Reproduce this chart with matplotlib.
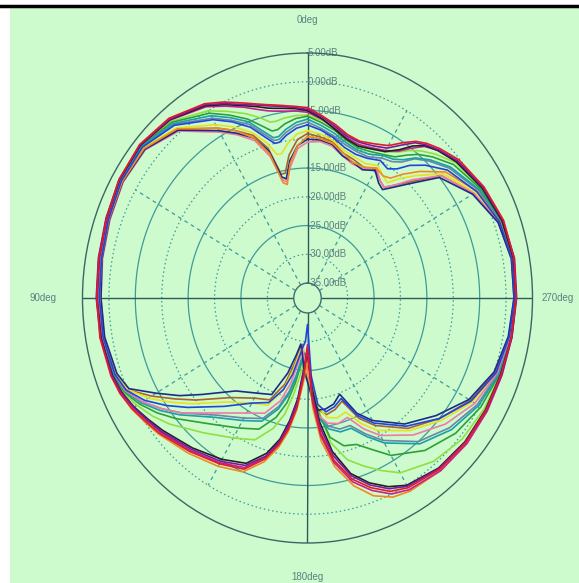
import numpy as np
import matplotlib
matplotlib.use("Agg")
import matplotlib.pyplot as plt
from matplotlib.patches import Rectangle
from matplotlib.lines import Line2D

# sample angles (deg, counter-clockwise from 0deg at top)
ANG = [0, 4, 8, 11, 13, 16, 20, 25, 30, 40, 50, 60, 70, 80, 90, 100, 110, 115, 120,
       125, 130, 140, 150, 158, 164, 168, 171, 174, 177, 180, 183, 186, 190, 195,
       200, 205, 210, 220, 230, 240, 250, 260, 270, 280, 290, 300, 310, 316, 320,
       323, 326, 330, 335, 340, 345, 350, 355]

# gain traces in dB, one per frequency
RED = [-4.5, -4.2, -3.8, -3.4, -3.1, -2.5, -1.5, 0.0, 1.4, 3.2, 3.9, 3.6, 2.9, 2.5, 2.3, 2.3, 2.0, 1.6, 0.8, -0.2, -1.0, -2.8, -4.3, -5.5, -8.5, -11.5, -14.5, -18.5, -24.0, -29.0, -20.0, -14.0, -9.0, -5.0, -2.5, -0.5, 0.5, 1.3, 1.5, 1.4, 1.4, 1.6, 1.9, 2.1, 1.9, 1.0, -0.2, -1.5, -2.5, -3.5, -5.0, -7.0, -8.0, -8.6, -8.2, -7.0, -5.8]
PURPLE = [-4.8, -4.4, -4.0, -3.6, -3.3, -2.7, -1.8, -0.3, 1.2, 3.0, 3.8, 3.6, 3.0, 2.6, 2.4, 2.2, 1.8, 1.3, 0.4, -0.6, -1.5, -3.3, -4.8, -6.2, -9.0, -12.0, -15.5, -19.5, -25.0, -28.5, -21.0, -15.0, -9.8, -5.6, -3.0, -1.0, 0.2, 1.1, 1.4, 1.5, 1.5, 1.7, 2.0, 2.2, 1.8, 0.8, -0.5, -1.8, -2.8, -3.8, -5.5, -7.5, -8.4, -8.8, -8.5, -7.3, -6.0]
BLACK = [-5.0, -4.6, -4.3, -4.0, -3.7, -3.0, -2.0, -0.5, 1.0, 2.9, 3.7, 3.5, 2.9, 2.5, 2.3, 2.1, 1.7, 1.2, 0.3, -0.8, -1.8, -3.6, -5.2, -6.6, -9.5, -12.5, -16.0, -20.0, -25.5, -28.0, -22.0, -16.0, -10.5, -6.0, -3.4, -1.4, 0.0, 1.0, 1.3, 1.3, 1.3, 1.6, 1.9, 2.0, 1.6, 0.6, -0.8, -2.0, -3.0, -4.5, -6.5, -8.2, -9.0, -9.5, -9.0, -7.8, -6.3]
MAGENTA = [-5.3, -5.0, -4.8, -4.5, -4.2, -3.5, -2.3, -0.8, 0.8, 2.8, 3.7, 3.5, 2.8, 2.4, 2.2, 2.1, 1.8, 1.3, 0.5, -0.5, -1.3, -3.0, -4.5, -5.8, -8.8, -11.8, -15.0, -19.0, -24.5, -29.5, -19.5, -13.5, -8.5, -4.5, -2.0, 0.0, 0.9, 1.6, 1.8, 1.7, 1.6, 1.7, 1.9, 2.0, 1.7, 0.7, -0.6, -1.9, -3.2, -5.0, -6.8, -8.0, -8.8, -9.2, -8.8, -7.6, -6.4]
BLUE = [-7.5, -8.0, -9.0, -10.0, -10.0, -8.5, -6.0, -3.8, -1.8, 1.6, 3.2, 3.1, 2.5, 2.0, 1.8, 1.7, 1.2, 0.3, -2.0, -5.0, -8.0, -13.0, -16.5, -18.0, -21.0, -24.0, -27.0, -29.0, -30.0, -33.0, -24.0, -19.0, -17.5, -18.0, -19.0, -15.0, -12.5, -8.5, -5.0, -1.8, 0.4, 1.2, 1.6, 1.7, 1.1, -0.6, -3.0, -5.5, -7.5, -9.5, -10.5, -10.0, -10.8, -11.0, -10.5, -9.3, -8.3]
NAVY = [-10.0, -11.0, -13.5, -16.5, -16.0, -11.0, -8.0, -6.0, -4.0, 0.5, 2.6, 2.8, 2.3, 1.9, 1.5, 1.4, 0.8, -0.3, -4.5, -8.0, -11.5, -16.5, -18.5, -19.5, -24.0, -27.5, -29.5, -28.0, -25.0, -23.0, -20.0, -18.0, -18.0, -18.5, -19.8, -15.5, -13.0, -9.0, -5.8, -2.3, 0.0, 1.0, 1.5, 1.6, 0.8, -1.5, -5.0, -10.0, -12.5, -14.0, -13.5, -12.0, -13.0, -12.5, -12.0, -10.5, -10.0]
TEAL = [-6.5, -7.0, -8.0, -9.0, -9.0, -7.5, -5.0, -3.0, -1.0, 2.0, 3.4, 3.3, 2.7, 2.2, 2.0, 1.9, 1.4, 0.6, -1.2, -3.5, -6.0, -10.5, -13.0, -14.5, -17.5, -20.5, -23.5, -26.5, -27.0, -25.5, -20.5, -16.5, -14.5, -13.5, -13.5, -11.0, -8.5, -4.5, -2.0, -0.2, 1.0, 1.4, 1.8, 1.9, 1.4, 0.0, -2.2, -4.2, -5.8, -7.5, -8.5, -9.0, -10.0, -10.2, -9.6, -8.5, -7.5]
GREEN = [-6.0, -6.3, -7.0, -7.8, -7.8, -6.5, -4.5, -2.5, -0.5, 2.3, 3.5, 3.4, 2.8, 2.3, 2.1, 2.0, 1.5, 0.8, -0.8, -2.8, -5.0, -9.0, -11.5, -13.0, -16.0, -19.0, -22.5, -26.0, -28.0, -27.0, -22.0, -17.5, -13.0, -11.0, -10.5, -8.5, -6.0, -3.0, -1.0, 0.3, 1.1, 1.5, 1.8, 1.9, 1.5, 0.3, -1.5, -3.5, -5.0, -6.5, -8.0, -8.8, -9.5, -9.8, -9.2, -8.0, -7.0]
YELLOW = [-8.5, -9.0, -10.5, -12.0, -12.0, -9.5, -7.0, -4.8, -2.8, 1.0, 3.0, 3.0, 2.4, 2.0, 1.7, 1.6, 1.0, 0.0, -2.8, -6.0, -9.0, -14.0, -16.5, -17.5, -21.0, -25.0, -28.0, -29.0, -27.0, -24.5, -21.0, -18.5, -16.5, -16.0, -16.5, -13.5, -11.0, -7.5, -4.5, -1.5, 0.5, 1.2, 1.6, 1.7, 1.0, -1.0, -4.0, -8.0, -10.5, -12.5, -12.0, -11.0, -11.8, -11.5, -11.0, -9.8, -9.0]
ORANGE = [-9.5, -11.0, -14.0, -17.5, -17.0, -11.5, -8.0, -5.5, -3.5, 0.8, 2.8, 2.9, 2.4, 2.0, 1.8, 1.9, 1.8, 1.5, 0.9, 0.0, -0.8, -2.4, -3.8, -5.0, -8.0, -11.0, -14.0, -18.0, -23.0, -27.0, -18.5, -12.5, -7.8, -3.8, -1.0, 0.6, 1.2, 1.6, 1.7, 1.6, 1.5, 1.6, 1.8, 1.8, 1.2, -0.5, -3.5, -7.0, -9.5, -11.5, -12.0, -11.5, -12.5, -12.5, -11.5, -10.3, -9.8]
PINK = [-10.5, -11.5, -14.5, -17.0, -16.5, -12.0, -8.5, -6.3, -4.3, 0.3, 2.5, 2.7, 2.2, 1.8, 1.5, 1.5, 1.2, 0.5, -1.5, -4.0, -6.5, -11.5, -14.5, -16.0, -19.0, -22.5, -26.0, -28.5, -27.0, -25.0, -20.5, -17.0, -15.5, -15.0, -15.5, -12.5, -10.0, -6.5, -3.5, -1.0, 0.6, 1.3, 1.7, 1.7, 0.9, -1.2, -4.5, -9.0, -12.0, -13.5, -13.0, -11.5, -12.8, -12.8, -12.0, -10.8, -10.3]
BROWN = [-9.0, -10.0, -12.5, -15.5, -15.5, -10.5, -7.5, -5.5, -3.5, 0.7, 2.7, 2.8, 2.3, 1.9, 1.6, 1.6, 1.1, 0.1, -3.5, -7.0, -10.0, -15.0, -17.5, -18.5, -22.0, -26.0, -29.0, -29.5, -26.0, -23.5, -20.5, -18.0, -17.0, -17.5, -18.5, -14.5, -12.0, -8.0, -5.0, -2.0, 0.2, 1.1, 1.5, 1.6, 0.9, -1.3, -4.5, -9.5, -12.0, -13.5, -13.0, -11.8, -12.5, -12.0, -11.5, -10.0, -9.5]
LIME = [-5.8, -5.8, -6.0, -6.3, -6.2, -5.0, -3.5, -1.8, 0.0, 2.5, 3.6, 3.4, 2.8, 2.3, 2.1, 2.0, 1.6, 1.0, -0.3, -1.8, -3.5, -7.0, -9.5, -11.0, -14.0, -17.0, -20.5, -24.0, -27.0, -28.0, -23.0, -18.0, -12.0, -8.5, -6.5, -4.5, -2.5, -0.5, 0.6, 1.0, 1.3, 1.6, 1.9, 2.0, 1.6, 0.5, -1.0, -2.8, -4.2, -5.5, -7.0, -8.3, -9.0, -9.5, -8.8, -7.6, -6.6]
SLATE = [-7.0, -7.5, -8.5, -9.5, -9.5, -8.0, -5.5, -3.5, -1.5, 1.8, 3.3, 3.2, 2.6, 2.1, 1.9, 1.8, 1.3, 0.5, -1.5, -4.0, -6.5, -11.0, -13.5, -15.0, -18.0, -21.0, -24.0, -27.0, -27.5, -26.0, -21.0, -17.0, -15.0, -14.0, -14.0, -11.5, -9.0, -5.0, -2.5, -0.5, 0.8, 1.3, 1.7, 1.8, 1.3, -0.2, -2.5, -4.5, -6.0, -8.0, -9.0, -9.5, -10.5, -10.5, -10.0, -9.0, -8.0]

# drawing order: inner traces first, strongest traces on top
TRACES = [
    (SLATE, "#6a86a8"), (LIME, "#8fe040"), (BROWN, "#a8642e"), (YELLOW, "#e8e020"),
    (GREEN, "#2ea03a"), (TEAL, "#1aa0a8"), (PINK, "#f07aa8"), (NAVY, "#1c2c86"),
    (ORANGE, "#f08a20"), (BLUE, "#2244d8"), (MAGENTA, "#c8208c"), (BLACK, "#202020"),
    (PURPLE, "#7a1aa0"), (RED, "#e01a2c"),
]

R_LEVELS = [5, 0, -5, -10, -15, -20, -25, -30, -35]
R_LABELS = ["5.00dB", "0.00dB", "-5.00dB", "-10.00dB", "-15.00dB", "-20.00dB",
            "-25.00dB", "-30.00dB", "-35.00dB"]

W, H = 579, 583
fig = plt.figure(figsize=(W / 100, H / 100), dpi=100)
fig.patch.set_facecolor("white")

BG = "#cdfbcd"
fig.patches.append(Rectangle((10 / W, 0), 1 - 10 / W, 1 - 8 / H, transform=fig.transFigure,
                             facecolor=BG, edgecolor="none", zorder=-10))
fig.lines.append(Line2D([0, 1], [1 - 6 / H, 1 - 6 / H], transform=fig.transFigure,
                        color="black", linewidth=2.5))

cx, cy, rx, ry = 307.5, 298.0, 225.0, 245.0
ax = fig.add_axes([(cx - rx) / W, (H - cy - ry) / H, 2 * rx / W, 2 * ry / H],
                  projection="polar")
ax.set_aspect("auto")
ax.set_facecolor("none")
ax.set_theta_zero_location("N")
ax.set_theta_direction(1)
ax.set_ylim(-35, 5)
ax.set_rorigin(-37.6)
ax.grid(False)
ax.set_xticks([])
ax.set_yticks([])
for name, sp in ax.spines.items():
    if name == "polar":
        sp.set_color("#3e6464")
        sp.set_linewidth(1.0)
    elif name == "inner":
        sp.set_color("#3e6e6e")
        sp.set_linewidth(1.0)
    else:
        sp.set_visible(False)

th_full = np.linspace(0, 2 * np.pi, 721)
GRID = "#3f9a9a"
for lev in R_LEVELS[1:-1]:
    if lev % 10 == 0:
        ax.plot(th_full, np.full_like(th_full, lev), color=GRID, lw=0.9,
                ls=(0, (1.2, 2.2)), zorder=1)
    else:
        ax.plot(th_full, np.full_like(th_full, lev), color=GRID, lw=0.9, zorder=1)

for a in range(30, 360, 30):
    if a % 90 == 0:
        continue
    t = np.deg2rad(a)
    ax.plot([t, t], [-35, 0], color=GRID, lw=0.9, ls=(0, (3, 3)), zorder=1)
for a in (0, 90, 180, 270):
    t = np.deg2rad(a)
    ax.plot([t, t], [-35, 5], color="#2f5a5a", lw=1.0, zorder=1)

TXT = "#5f7f7f"
for lev, lab in zip(R_LEVELS, R_LABELS):
    ax.text(0, lev, lab, fontsize=7, color=TXT, ha="left", va="center", zorder=2,
            family="Liberation Sans")

th = np.deg2rad(ANG + [360])
for vals, col in TRACES:
    ax.plot(th, vals + [vals[0]], color=col, lw=1.2, zorder=5, solid_joinstyle="round")

fig.text(cx / W, 1 - 20 / H, "0deg", ha="center", va="center", fontsize=7, color=TXT,
         family="Liberation Sans")
fig.text(cx / W, 1 - 577 / H, "180deg", ha="center", va="center", fontsize=7, color=TXT,
         family="Liberation Sans")
fig.text(30 / W, 1 - 298 / H, "90deg", ha="left", va="center", fontsize=7, color=TXT,
         family="Liberation Sans")
fig.text(574 / W, 1 - 298 / H, "270deg", ha="right", va="center", fontsize=7, color=TXT,
         family="Liberation Sans")

fig.savefig("out.png", dpi=100)
